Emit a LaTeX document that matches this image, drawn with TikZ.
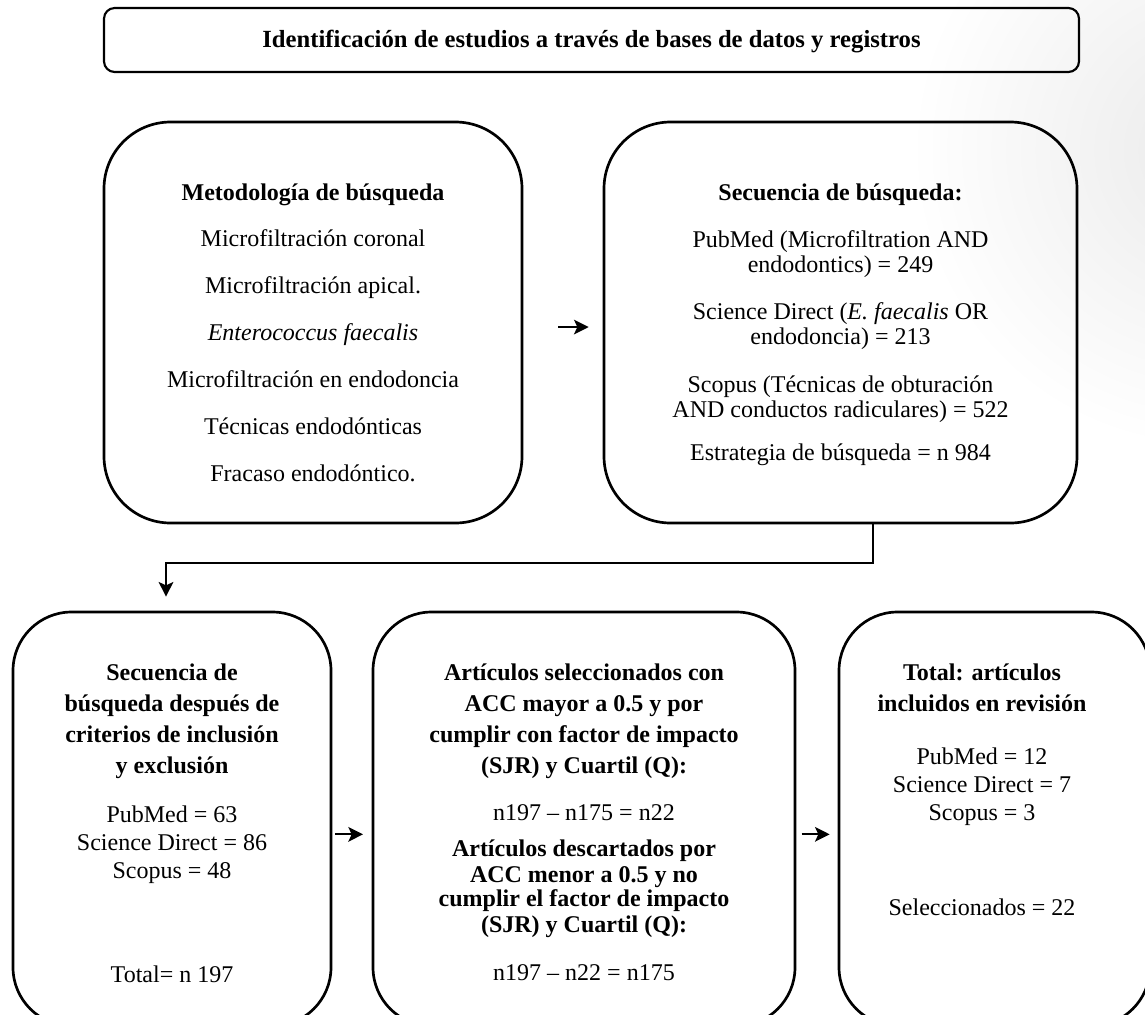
\documentclass[tikz,border=0pt]{standalone}
\usepackage{fontspec}
\setmainfont{Liberation Serif}
\usetikzlibrary{arrows.meta,fit}
\begin{document}
\begin{tikzpicture}[x=0.75pt,y=-0.75pt,
  bigbox/.style={draw, line width=2pt, rounded corners=50pt, inner sep=0pt},
  lowbox/.style={draw, line width=2pt, rounded corners=44pt, inner sep=0pt},
  titlebox/.style={draw, line width=1.6pt, rounded corners=8pt, inner sep=0pt},
  txt/.style={anchor=base, inner sep=0pt, font=\fontsize{18}{21}\selectfont},
  btxt/.style={anchor=base, inner sep=0pt, font=\fontsize{18}{21}\selectfont\bfseries},
  arr/.style={line width=1.3pt, -{Stealth[length=11pt,width=11pt,inset=2.5pt]}}
]
\useasboundingbox (0,0) rectangle (1145,1014);
\clip (0,0) rectangle (1145,1014);
\shade[inner color=black!8, outer color=white] (1210,150) circle (300);

% title
\node[titlebox, fit={(104,8) (1079,72)}] (T) {};
\node[btxt, font=\fontsize{18.5}{21}\selectfont\bfseries] (t0) at (591.5,47) {Identificación de estudios a través de bases de datos y registros};

% top boxes
\node[bigbox, fit={(104,122) (522,523)}] (A) {};
\node[bigbox, fit={(604,122) (1077,523)}] (B) {};

\node[btxt] (a0) at (313,200) {Metodología de búsqueda};
\node[txt] (a1) at (313,246) {Microfiltración coronal};
\node[txt] (a2) at (313,293) {Microfiltración apical.};
\node[txt] (a3) at (313,340) {\itshape Enterococcus faecalis};
\node[txt] (a4) at (313,387) {Microfiltración en endodoncia};
\node[txt] (a5) at (313,434) {Técnicas endodónticas};
\node[txt] (a6) at (313,481) {Fracaso endodóntico.};

\node[btxt] (b0) at (840.5,200) {Secuencia de búsqueda:};
\node[txt] (b1) at (840.5,247) {PubMed (Microfiltration AND};
\node[txt] (b2) at (840.5,272) {endodontics) = 249};
\node[txt] (b3) at (840.5,319) {Science Direct (\textit{E. faecalis} OR};
\node[txt] (b4) at (840.5,344) {endodoncia) = 213};
\node[txt] (b5) at (840.5,392) {Scopus (Técnicas de obturación};
\node[txt] (b6) at (840.5,417) {AND conductos radiculares) = 522};
\node[txt] (b7) at (840.5,460) {Estrategia de búsqueda = n 984};

% bottom boxes
\node[lowbox, fit={(13,612) (331,1026)}] (C) {};
\node[lowbox, fit={(373,612) (795,1026)}] (D) {};
\node[lowbox, fit={(839,612) (1150,1026)}] (E) {};

\node[btxt] (c0) at (172,680) {Secuencia de};
\node[btxt] (c1) at (172,711) {búsqueda después de};
\node[btxt] (c2) at (172,742) {criterios de inclusión};
\node[btxt] (c3) at (172,773) {y exclusión};
\node[txt] (c4) at (172,822) {PubMed = 63};
\node[txt] (c5) at (172,850) {Science Direct = 86};
\node[txt] (c6) at (172,878) {Scopus = 48};
\node[txt] (c7) at (172,982) {Total= n 197};

\node[btxt] (d0) at (584,680) {Artículos seleccionados con};
\node[btxt] (d1) at (584,711) {ACC mayor a 0.5 y por};
\node[btxt] (d2) at (584,742) {cumplir con factor de impacto};
\node[btxt] (d3) at (584,773) {(SJR) y Cuartil (Q):};
\node[txt] (d4) at (584,820) {n197 -- n175 = n22};
\node[btxt] (d5) at (584,856) {Artículos descartados por};
\node[btxt] (d6) at (584,882) {ACC menor a 0.5 y no};
\node[btxt] (d7) at (584,906) {cumplir el factor de impacto};
\node[btxt] (d8) at (584,932) {(SJR) y Cuartil (Q):};
\node[txt] (d9) at (584,980) {n197 -- n22 = n175};

\node[btxt] (e0) at (982,680) {Total: artículos};
\node[btxt] (e1) at (982,711) {incluidos en revisión};
\node[txt] (e2) at (982,764) {PubMed = 12};
\node[txt] (e3) at (982,792) {Science Direct = 7};
\node[txt] (e4) at (982,820) {Scopus = 3};
\node[txt] (e5) at (982,915) {Seleccionados = 22};

% connectors
\draw[arr] ([xshift=26pt,yshift=-3.4pt]A.east) -- ([xshift=-10.5pt,yshift=-3.4pt]B.west);
\draw[arr] ([xshift=24.4pt]B.south) -- ++(0,39) -| ([xshift=-4.5pt,yshift=10.5pt]C.north);
\draw[arr] ([xshift=2pt,yshift=-11.5pt]C.east) -- ([xshift=-6.5pt,yshift=-11.5pt]D.west);
\draw[arr] ([xshift=4pt,yshift=-11.5pt]D.east) -- ([xshift=-6pt,yshift=-11.5pt]E.west);
\end{tikzpicture}
\end{document}
